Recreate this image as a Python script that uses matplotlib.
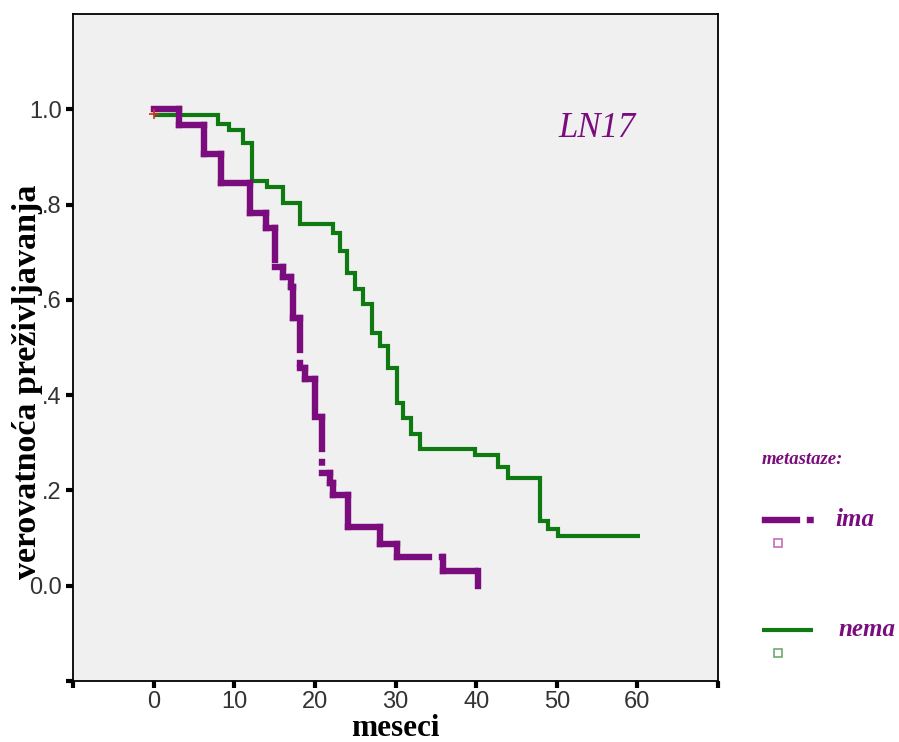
import matplotlib
matplotlib.use("Agg")
import matplotlib.pyplot as plt
from matplotlib.collections import LineCollection
from matplotlib.lines import Line2D

plt.rcParams["lines.scale_dashes"] = False

# Kaplan-Meier steps: time (months) and survival probability after each step
times_ima = [0, 3.1, 6.2, 8.3, 12.0, 13.9, 15.0, 16.0, 17.0, 17.3, 18.1, 18.8,
             20.0, 20.9, 21.9, 22.3, 24.1, 28.1, 30.2, 35.9, 40.2]
surv_ima = [1.0, 0.968, 0.907, 0.846, 0.783, 0.75, 0.67, 0.647, 0.626, 0.562,
            0.457, 0.434, 0.355, 0.236, 0.215, 0.19, 0.124, 0.088, 0.061, 0.03, 0.0]

times_nema = [0, 8.0, 9.4, 11.1, 12.2, 14.1, 16.1, 18.2, 22.2, 23.1, 24.0, 25.0,
              26.0, 27.1, 28.1, 29.1, 30.2, 30.9, 31.9, 33.0, 39.9, 42.7, 44.0,
              47.9, 48.9, 50.1, 60.3]
surv_nema = [0.987, 0.97, 0.956, 0.93, 0.85, 0.836, 0.804, 0.76, 0.741, 0.703,
             0.657, 0.623, 0.592, 0.53, 0.503, 0.457, 0.383, 0.352, 0.318, 0.286,
             0.274, 0.25, 0.227, 0.135, 0.12, 0.105, 0.105]

x_ticks = [-10, 0, 10, 20, 30, 40, 50, 60, 70]
x_ticklabels = ["", "0", "10", "20", "30", "40", "50", "60", ""]
y_ticks = [-0.2, 0.0, 0.2, 0.4, 0.6, 0.8, 1.0]
y_ticklabels = ["", "0.0", ".2", ".4", ".6", ".8", "1.0"]

PURPLE = "#7a0c7e"
GREEN = "#107a12"
SERIF = ["Liberation Serif", "DejaVu Serif"]
SANS = ["Liberation Sans", "DejaVu Sans"]

fig = plt.figure(figsize=(8.99, 7.42), dpi=100)
fig.patch.set_facecolor("white")
ax = fig.add_axes([73 / 899, 1 - 681 / 742, 645 / 899, 667 / 742])
ax.set_facecolor("#f0f0f0")


def step_segments(t, s):
    segs = []
    for i in range(len(t) - 1):
        segs.append([(t[i], s[i]), (t[i + 1], s[i])])
        if s[i + 1] != s[i]:
            segs.append([(t[i + 1], s[i]), (t[i + 1], s[i + 1])])
    return segs


# group "nema": solid step curve
ax.step(times_nema, surv_nema, where="post", color=GREEN, lw=3.0,
        solid_joinstyle="miter", solid_capstyle="butt", zorder=3)

# group "ima": each step segment drawn with its own dash pattern
ima_dash = (0, (23.0, 9.4, 0.4, 9.4))
lc = LineCollection(step_segments(times_ima, surv_ima), colors=PURPLE,
                    linewidths=4.6, linestyles=[ima_dash], capstyle="projecting",
                    zorder=4)
ax.add_collection(lc)

# censoring mark at the start
ax.plot([times_ima[0]], [surv_ima[0] - 0.01], marker="+", color="#d03020",
        ms=7, mew=1.2, zorder=5)

ax.set_xlim(-10, 70)
ax.set_ylim(-0.2, 1.2)
ax.set_xticks(x_ticks)
ax.set_xticklabels(x_ticklabels)
ax.set_yticks(y_ticks)
ax.set_yticklabels(y_ticklabels)
ax.tick_params(direction="out", length=5, width=3, color="black", pad=3,
               labelsize=17, labelcolor="#333333")
ax.tick_params(axis="x", pad=2)
for lab in ax.get_xticklabels() + ax.get_yticklabels():
    lab.set_fontfamily(SANS)
for sp in ax.spines.values():
    sp.set_linewidth(1.3)
    sp.set_color("black")

ax.text(0.5, -0.083, "meseci", transform=ax.transAxes, fontsize=22.5,
        fontweight="bold", family=SERIF, ha="center", va="baseline")
ax.set_ylabel("verovatnoća preživljavanja", fontsize=24.5, fontweight="bold",
              family=SERIF)
ax.yaxis.set_label_coords(-0.047, 0.448)

ax.text(55, 0.96, "LN17", color=PURPLE, fontsize=25, fontstyle="italic",
        family=SERIF, ha="center", va="center")

# legend panel to the right of the plot (pixel-like coordinates)
lg = fig.add_axes([740 / 899, 1 - 680 / 742, 159 / 899, 250 / 742])
lg.set_xlim(740, 899)
lg.set_ylim(680, 430)
lg.axis("off")
lg.text(762, 460, "metastaze:", color=PURPLE, fontsize=13.5, fontweight="bold",
        fontstyle="italic", family=SERIF, va="center", ha="left")
lg.add_collection(LineCollection([[(765, 520), (813, 520)]], colors=PURPLE,
                                 linewidths=4.6, linestyles=[ima_dash],
                                 capstyle="projecting"))
lg.plot([778], [543], marker="s", ms=6, mfc="none", mec="#c86cb8", mew=1.2)
lg.text(835, 520, "ima", color=PURPLE, fontsize=18, fontweight="bold",
        fontstyle="italic", family=SERIF, va="center", ha="left")
lg.add_line(Line2D([762, 813], [630, 630], color=GREEN, lw=3.0,
                   solid_capstyle="butt"))
lg.plot([778], [653], marker="s", ms=6, mfc="none", mec="#70a870", mew=1.2)
lg.text(838, 630, "nema", color=PURPLE, fontsize=18, fontweight="bold",
        fontstyle="italic", family=SERIF, va="center", ha="left")

fig.savefig("out.png", dpi=100)
